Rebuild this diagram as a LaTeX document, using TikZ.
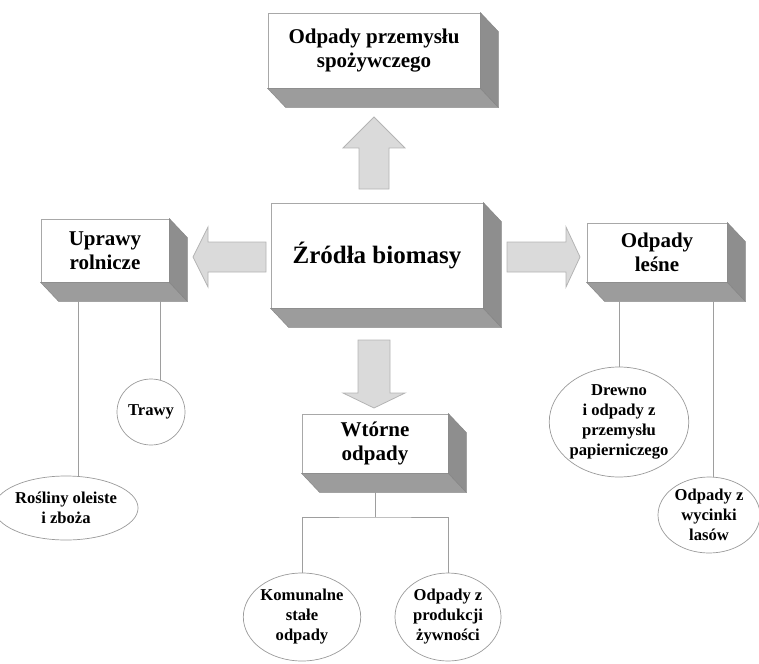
\documentclass[tikz,border=0pt]{standalone}
\usepackage{fontspec}
\setmainfont{Liberation Serif}
\usetikzlibrary{shapes.geometric}
\definecolor{boxline}{HTML}{A8A8A8}
\definecolor{facegray}{HTML}{9C9C9C}
\definecolor{facedark}{HTML}{8E8E8E}
\definecolor{arrowfill}{HTML}{DADADA}
\definecolor{arrowline}{HTML}{B4B4B4}
\definecolor{ellline}{HTML}{9A9A9A}
\definecolor{linkgray}{HTML}{9E9E9E}
\newcommand\boxdepth[1]{%
  \filldraw[facebottom] (#1.south west) -- (#1.south east) -- ([shift={(18,19)}]#1.south east) -- ([shift={(18,19)}]#1.south west) -- cycle;
  \filldraw[faceside] (#1.north east) -- ([shift={(18,19)}]#1.north east) -- ([shift={(18,19)}]#1.south east) -- (#1.south east) -- cycle;}
\begin{document}
\begin{tikzpicture}[x=1pt,y=-1pt,
  box/.style={draw=boxline, fill=white, line width=0.8pt, align=center, inner sep=0pt,
    font=\bfseries\fontsize{21}{23.5}\selectfont},
  facebottom/.style={fill=facegray, draw=facegray!85!black, line width=0.4pt},
  faceside/.style={fill=facedark, draw=facegray!85!black, line width=0.4pt},
  blockarrow/.style={fill=arrowfill, draw=arrowline, line width=0.8pt, line join=miter},
  leaf/.style={ellipse, draw=ellline, line width=0.7pt, align=center, inner sep=0pt,
    font=\bfseries\fontsize{16.6}{20}\selectfont},
  link/.style={draw=linkgray, line width=1pt}]
\useasboundingbox (0,0) rectangle (759,663);

% boxes
\node[box, minimum width=212pt, minimum height=75pt] (spo) at (374,50.5) {Odpady przemysłu\\spożywczego};
\boxdepth{spo}
\node[box, minimum width=212pt, minimum height=105pt, font=\bfseries\fontsize{25}{28}\selectfont] (zr) at (377,255.5) {Źródła biomasy};
\boxdepth{zr}
\node[box, minimum width=128pt, minimum height=63pt] (up) at (105,250.5) {Uprawy\\rolnicze};
\boxdepth{up}
\node[box, minimum width=140pt, minimum height=59pt] (le) at (657,252.5) {Odpady\\leśne};
\boxdepth{le}
\node[box, minimum width=146pt, minimum height=59pt] (wt) at (375,443.5) {Wtórne\\odpady};
\boxdepth{wt}

% block arrows
\filldraw[blockarrow] (359,189) -- (359,148) -- (343,148) -- (374,117) -- (405,148) -- (389,148) -- (389,189) -- cycle;
\filldraw[blockarrow] (266,242) -- (208,242) -- (208,227) -- (193,257) -- (208,287) -- (208,272) -- (266,272) -- cycle;
\filldraw[blockarrow] (507,242) -- (566,242) -- (566,227) -- (580,257) -- (566,287) -- (566,272) -- (507,272) -- cycle;
\filldraw[blockarrow] (358,340) -- (390,340) -- (390,393) -- (405,393) -- (374,408) -- (343,393) -- (358,393) -- cycle;

% ellipses
\node[leaf, minimum width=68pt, minimum height=66pt] (tr) at (151,412) {Trawy};
\node[leaf, minimum width=118pt, minimum height=64pt] (ros) at (66,508) {Rośliny oleiste\\i zboża};
\node[leaf, minimum width=136pt, minimum height=110pt] (dr) at (619,422) {Drewno\\i odpady z\\przemysłu\\papierniczego};
\node[leaf, minimum width=102pt, minimum height=76pt] (wy) at (709,515) {Odpady z\\wycinki\\lasów};
\node[leaf, minimum width=108pt, minimum height=88pt] (ko) at (302,617) {Komunalne\\stałe\\odpady};
\node[leaf, minimum width=106pt, minimum height=88pt] (pr) at (448,617) {Odpady z\\produkcji\\żywności};

% connectors
\coordinate (u1) at (78,301);
\coordinate (u2) at (160,301);
\coordinate (l1) at (619,300);
\coordinate (l2) at (713,300);
\coordinate (j) at (375,517);
\draw[link] (u1) -- (u1 |- ros.north);
\draw[link, shorten >=-1.5pt] (u2) -- (u2 |- tr.north);
\draw[link] (l1) -- (dr.north);
\draw[link, shorten >=-0.5pt] (l2) -- (l2 |- wy.north);
\draw[link] ([yshift=-19pt]wt.south) -- (j);
\draw[link] (ko.north) |- (j) -| (pr.north);
\end{tikzpicture}
\end{document}
